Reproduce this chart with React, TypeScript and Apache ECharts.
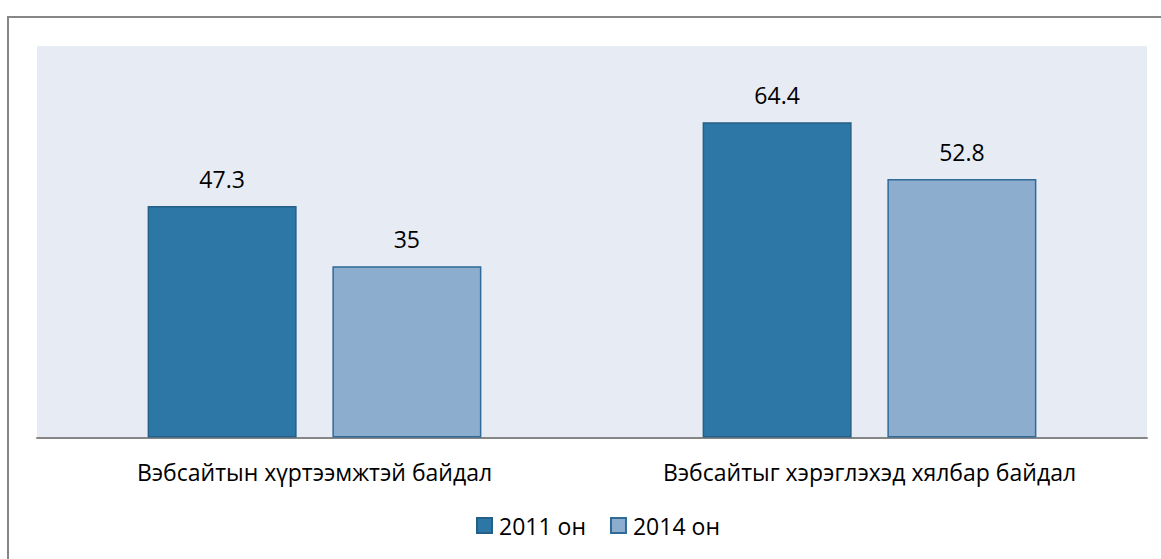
import React, { useEffect, useRef } from "react";
import * as echarts from "echarts";

const categories = ["Вэбсайтын хүртээмжтэй байдал", "Вэбсайтыг хэрэглэхэд хялбар байдал"];
const seriesNames = ["2011 он", "2014 он"];
const values2011 = [47.3, 64.4];
const values2014 = [35, 52.8];

const FONT = "'Open Sans', 'Noto Sans', sans-serif";

export default function App() {
  const ref = useRef<HTMLDivElement>(null);
  useEffect(() => {
    if (!ref.current) return;
    const chart = echarts.init(ref.current, null, { renderer: "svg" });
    const label = {
      show: true,
      position: "top" as const,
      distance: 16,
      color: "#000",
      fontSize: 23,
      fontFamily: FONT,
    };
    chart.setOption({
      animation: false,
      backgroundColor: "#fff",
      textStyle: { fontFamily: FONT },
      graphic: [
        {
          type: "rect",
          shape: { x: 8, y: 17, width: 1200, height: 600 },
          style: { fill: "none", stroke: "#868686", lineWidth: 2 },
          silent: true,
          z: -10,
        },
      ],
      grid: {
        left: 37,
        top: 46,
        width: 1110,
        height: 391.5,
        show: true,
        backgroundColor: "#E7EBF3",
        borderWidth: 0,
      },
      legend: {
        data: seriesNames,
        bottom: 17,
        left: 471,
        itemWidth: 15,
        itemHeight: 15,
        itemGap: 24,
        icon: "rect",
        textStyle: { fontSize: 23, color: "#000", fontFamily: FONT, padding: [0, 0, 0, 2] },
      },
      xAxis: {
        type: "category",
        data: categories,
        axisLine: { show: true, lineStyle: { color: "#868686", width: 2 } },
        axisTick: { show: false },
        axisLabel: { color: "#000", fontSize: 23, fontFamily: FONT, margin: 23 },
      },
      yAxis: {
        type: "value",
        min: 0,
        max: 80,
        show: false,
        splitLine: { show: false },
      },
      series: [
        {
          name: seriesNames[0],
          type: "bar",
          data: values2011,
          barWidth: 149,
          barGap: "24%",
          itemStyle: { color: "#2C77A5", borderColor: "#245F87", borderWidth: 1.5 },
          label,
        },
        {
          name: seriesNames[1],
          type: "bar",
          data: values2014,
          barWidth: 149,
          itemStyle: { color: "#8DADCF", borderColor: "#2F6A98", borderWidth: 1.5 },
          label,
        },
      ],
    });
    return () => chart.dispose();
  }, []);
  return (
    <div
      ref={ref}
      style={{ position: "absolute", left: 0, top: 0, width: 1161, height: 559 }}
    />
  );
}
